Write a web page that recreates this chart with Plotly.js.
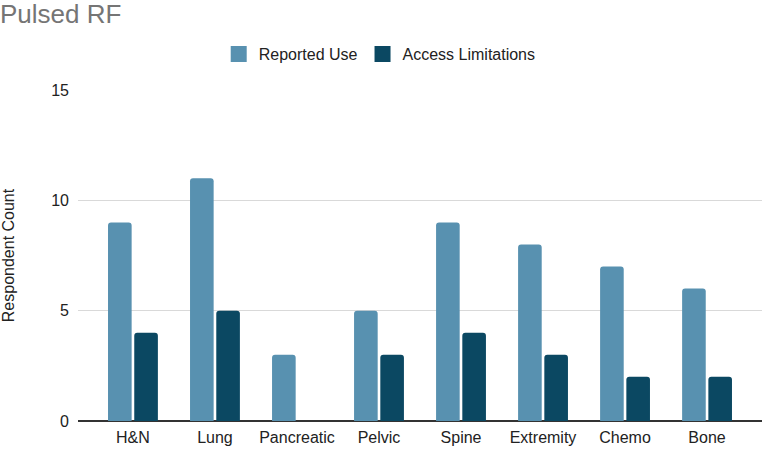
<!DOCTYPE html>
<html>
<head>
<meta charset="utf-8">
<script src="https://cdn.plot.ly/plotly-3.0.1.min.js"></script>
<style>html,body{margin:0;padding:0;background:#fff}#chart{width:764px;height:449px}</style>
</head>
<body>
<div id="chart"></div>
<script>
const categories = ["H&N", "Lung", "Pancreatic", "Pelvic", "Spine", "Extremity", "Chemo", "Bone"];
const reportedUse = [9, 11, 3, 5, 9, 8, 7, 6];
const accessLimitations = [4, 5, 0, 3, 4, 3, 2, 2];
const seriesNames = ["Reported Use", "Access Limitations"];
const seriesColors = ["#5891b0", "#0b4862"];
const yTicks = [0, 5, 10, 15];

const font = "Arial, 'Liberation Sans', sans-serif";
const seriesValues = [reportedUse, accessLimitations];
const traces = seriesValues.map((vals, i) => ({
  type: "bar", name: seriesNames[i], x: categories, y: vals, showlegend: false,
  marker: {color: seriesColors[i], cornerradius: 3}
}));
// legend entries with larger square swatches
seriesNames.forEach((n, i) => traces.push({
  type: "scatter", mode: "markers", name: n, x: [null], y: [null], showlegend: true,
  marker: {symbol: "square", size: 16, color: seriesColors[i]}
}));
const layout = {
  width: 764, height: 449,
  margin: {l: 78, r: 2, t: 90, b: 28},
  paper_bgcolor: "#fff", plot_bgcolor: "#fff",
  font: {family: font, size: 16, color: "#222"},
  title: {text: "Pulsed RF", x: 0, xref: "container", xanchor: "left", y: 1 - 14/449, yref: "container", yanchor: "middle",
          font: {family: font, size: 26, color: "#757575"}},
  barmode: "group", bargap: 0.36, bargroupgap: 0.1,
  showlegend: true,
  legend: {orientation: "h", x: 0.497, xref: "container", xanchor: "center", y: 1 - 54/449, yref: "container", yanchor: "middle",
           font: {family: font, size: 16, color: "#222"}, traceorder: "normal", itemwidth: 30},
  xaxis: {type: "category", range: [-0.67, 7.67], showgrid: false, showline: false, ticks: "", ticklabelstandoff: 5,
          tickfont: {family: font, size: 16, color: "#222"}, fixedrange: true, zeroline: false},
  yaxis: {range: [0, 15], tickvals: yTicks, ticktext: yTicks.map(String), showgrid: true, gridcolor: "#d9d9d9", gridwidth: 1,
          zeroline: true, zerolinecolor: "#333", zerolinewidth: 1.5, ticks: "", ticklabelstandoff: 8,
          tickfont: {family: font, size: 16, color: "#222"},
          title: {text: "Respondent Count", font: {family: font, size: 16, color: "#222"}, standoff: 32}}
};
Plotly.newPlot("chart", traces, layout, {displayModeBar: false, staticPlot: true});
</script>
</body>
</html>
